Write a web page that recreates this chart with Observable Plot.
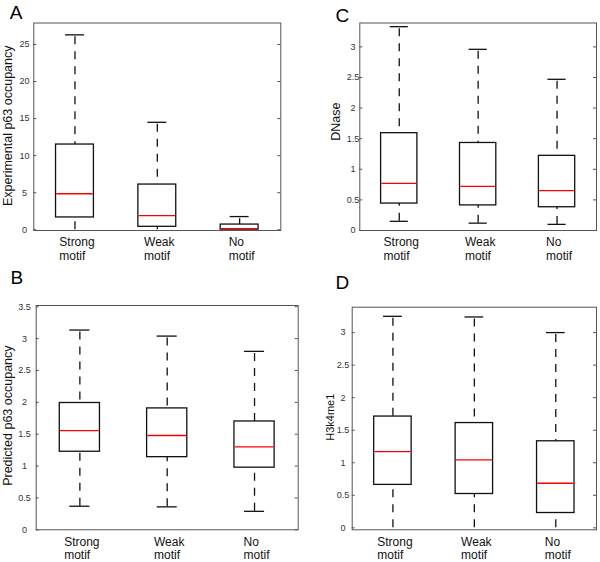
<!DOCTYPE html>
<html><head><meta charset="utf-8">
<script src="https://cdn.jsdelivr.net/npm/d3@7"></script>
<script src="https://cdn.jsdelivr.net/npm/@observablehq/plot@0.6"></script>
<style>
body{margin:0;background:#fff;}
#wrap{position:relative;width:600px;height:562px;background:#fff;}
#wrap svg{position:absolute;}
</style></head><body><div id="wrap"></div>
<script>
const categories = ["Strong motif", "Weak motif", "No motif"];

// Panel A: Experimental p63 occupancy
const expLow = [0, 0, 0];
const expQ1 = [1.66, 0.4, 0.02];
const expMedian = [4.86, 1.9, 0.16];
const expQ3 = [11.5, 6.1, 0.7];
const expHigh = [26.3, 14.5, 1.78];
const expTicks = [0, 5, 10, 15, 20, 25];

// Panel B: Predicted p63 occupancy
const predLow = [0.37, 0.36, 0.29];
const predQ1 = [1.225, 1.14, 0.975];
const predMedian = [1.555, 1.48, 1.30];
const predQ3 = [1.99, 1.905, 1.70];
const predHigh = [3.135, 3.04, 2.80];
const predTicks = [0, 0.5, 1, 1.5, 2, 2.5, 3, 3.5];

// Panel C: DNase
const dnaseLow = [0.15, 0.12, 0.10];
const dnaseQ1 = [0.44, 0.41, 0.38];
const dnaseMedian = [0.77, 0.72, 0.65];
const dnaseQ3 = [1.59, 1.43, 1.22];
const dnaseHigh = [3.33, 2.96, 2.47];
const dnaseTicks = [0, 0.5, 1, 1.5, 2, 2.5, 3];

// Panel D: H3k4me1
const h3Low = [0, 0, 0];
const h3Q1 = [0.66, 0.52, 0.228];
const h3Median = [1.17, 1.045, 0.685];
const h3Q3 = [1.71, 1.61, 1.33];
const h3High = [3.25, 3.24, 3.0];
const h3Ticks = [0, 0.5, 1, 1.5, 2, 2.5, 3];

const FONT = "'Liberation Sans', Arial, Helvetica, sans-serif";
const canvas = document.createElement("canvas");
const ctx = canvas.getContext("2d");
ctx.font = "12px " + FONT;
function blockWidth(s) {
  return d3.max(s.split(" "), l => ctx.measureText(l).width);
}

function panel(o) {
  const rows = categories.map((c, i) => ({
    cat: c, low: o.low[i], q1: o.q1[i], med: o.med[i], q3: o.q3[i], high: o.high[i]
  }));
  const innerW = o.width - o.ml - o.mr;
  const band = innerW / categories.length;
  const boxInset = band * (1 - 0.46) / 2;
  const capInset = band * (1 - 0.23) / 2;
  const labelMarks = rows.map(r => Plot.text([r], {
    x: "cat",
    text: d => d.cat.replace(" ", "\n"),
    frameAnchor: "bottom",
    textAnchor: "start",
    lineAnchor: "top",
    lineHeight: 1.1,
    dy: 6.5,
    dx: -blockWidth(r.cat) / 2 + 2,
    fontSize: 12,
    fill: "#111"
  }));
  const svg = Plot.plot({
    width: o.width,
    height: o.height,
    marginLeft: o.ml, marginRight: o.mr, marginTop: o.mt, marginBottom: o.mb,
    style: {fontFamily: FONT, background: "transparent", overflow: "visible"},
    x: {domain: categories, padding: 0, round: false, axis: null},
    y: {domain: o.domain, axis: null},
    marks: [
      Plot.ruleX(rows, {x: "cat", y1: "high", y2: "q3", stroke: "#111", strokeWidth: 1.3, strokeDasharray: "8,7", strokeDashoffset: -2}),
      Plot.ruleX(rows, {x: "cat", y1: "low", y2: "q1", stroke: "#111", strokeWidth: 1.3, strokeDasharray: "8,7"}),
      Plot.tickY(rows, {x: "cat", y: "high", stroke: "#111", strokeWidth: 1.3, insetLeft: capInset, insetRight: capInset}),
      Plot.tickY(rows.filter(d => d.low > 0), {x: "cat", y: "low", stroke: "#111", strokeWidth: 1.3, insetLeft: capInset, insetRight: capInset}),
      Plot.barY(rows, {x: "cat", y1: "q1", y2: "q3", fill: "white", stroke: "#111", strokeWidth: 1.3, insetLeft: boxInset, insetRight: boxInset}),
      Plot.tickY(rows, {x: "cat", y: "med", stroke: "#ff0000", strokeWidth: 1.3, insetLeft: boxInset + 0.7, insetRight: boxInset + 0.7}),
      Plot.ruleY(o.ticks, {stroke: "#555", insetRight: innerW - 3}),
      Plot.ruleY(o.ticks, {stroke: "#555", insetLeft: innerW - 3}),
      Plot.frame({stroke: "#555", strokeWidth: 1}),
      Plot.axisY({ticks: o.ticks, tickSize: 0, tickPadding: o.tickPad, textAnchor: "middle",
        tickFormat: d => String(d), fontSize: 9, fill: "#333", label: null}),
      ...labelMarks,
      Plot.text([o.ylabel], {frameAnchor: "left", text: d => d, rotate: -90, textAnchor: "middle",
        lineAnchor: "middle", dx: o.ylDx, dy: o.ylDy, fontSize: o.ylSize, fill: "#111"}),
      Plot.text([o.letter], {frameAnchor: "top-left", text: d => d, textAnchor: "start",
        lineAnchor: "top", dx: o.letDx, dy: o.letDy, fontSize: 19, fill: "#000"})
    ]
  });
  svg.style.left = o.left + "px";
  svg.style.top = o.top + "px";
  document.getElementById("wrap").appendChild(svg);
}

panel({letter: "A", ylabel: "Experimental p63 occupancy", ylSize: 12.5,
  low: expLow, q1: expQ1, med: expMedian, q3: expQ3, high: expHigh, ticks: expTicks,
  domain: [-0.1, 27.9], left: 0, top: 0, width: 300, height: 262,
  ml: 33.3, mr: 19.7, mt: 22.5, mb: 32, tickPad: 9.3,
  ylDx: -25.6, ylDy: -1, letDx: -24, letDy: -17.5});

panel({letter: "C", ylabel: "DNase", ylSize: 12.5,
  low: dnaseLow, q1: dnaseQ1, med: dnaseMedian, q3: dnaseQ3, high: dnaseHigh, ticks: dnaseTicks,
  domain: [0, 3.39], left: 300, top: 0, width: 300, height: 262,
  ml: 59.3, mr: 4, mt: 22.5, mb: 32, tickPad: 6.8,
  ylDx: -23.6, ylDy: -5, letDx: -24.3, letDy: -14.2});

panel({letter: "B", ylabel: "Predicted p63 occupancy", ylSize: 12.5,
  low: predLow, q1: predQ1, med: predMedian, q3: predQ3, high: predHigh, ticks: predTicks,
  domain: [0, 3.52], left: 0, top: 262, width: 300, height: 300,
  ml: 35.7, mr: 2.3, mt: 43, mb: 32.7, tickPad: 11.7,
  ylDx: -28.7, ylDy: -2, letDx: -25.7, letDy: -35});

panel({letter: "D", ylabel: "H3k4me1", ylSize: 11,
  low: h3Low, q1: h3Q1, med: h3Median, q3: h3Q3, high: h3High, ticks: h3Ticks,
  domain: [-0.03, 3.39], left: 300, top: 262, width: 300, height: 300,
  ml: 51.7, mr: 4, mt: 44.7, mb: 32.7, tickPad: 9.3,
  ylDx: -21.7, ylDy: -1.3, letDx: -16.7, letDy: -31.7});
</script>
</body></html>
